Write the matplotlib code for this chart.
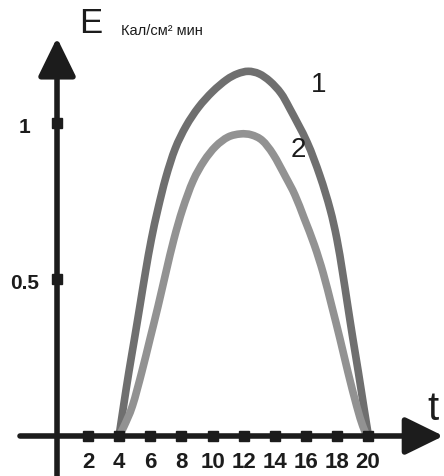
import numpy as np
import matplotlib
matplotlib.use("Agg")
import matplotlib.pyplot as plt
from matplotlib.path import Path
from matplotlib.patches import PathPatch

plt.rcParams["font.family"] = ["Liberation Sans", "DejaVu Sans"]

## curve 1
t1 = [3.99, 4.28, 4.62, 4.98, 5.33, 5.69, 6.07, 6.49, 7.0, 7.6, 8.3,
      9.1, 10.0, 10.9, 11.6, 12.3, 13.0, 13.7, 14.4, 14.98, 16.08, 16.91,
      17.56, 18.0, 18.36, 18.70, 19.03, 19.38, 19.72, 20.03]
E1 = [0.0, 0.096, 0.204, 0.310, 0.415, 0.524, 0.629, 0.725, 0.826, 0.918,
      0.99, 1.05, 1.10, 1.138, 1.157, 1.165, 1.157, 1.133, 1.095, 1.045,
      0.939, 0.831, 0.725, 0.629, 0.524, 0.415, 0.310, 0.204, 0.096, 0.0]

## curve 2
t2 = [3.99, 4.30, 4.85, 5.45, 5.98, 6.50, 7.01, 7.52, 8.08, 8.75, 9.45,
      10.2, 11.0, 11.8, 12.5, 13.2, 13.9, 14.7, 15.3, 15.9, 16.55, 17.12,
      17.67, 18.20, 18.71, 19.27, 19.66, 19.94]
E2 = [0.0, 0.03, 0.096, 0.204, 0.310, 0.415, 0.524, 0.629, 0.725, 0.815,
      0.878, 0.925, 0.955, 0.965, 0.962, 0.944, 0.90, 0.828, 0.77, 0.695,
      0.61, 0.52, 0.415, 0.310, 0.204, 0.096, 0.032, 0.0]

xticks = [2, 4, 6, 8, 10, 12, 14, 16, 18, 20]
yticks = [0.5, 1]
ytick_labels = ["0.5", "1"]

AXCOL = "#1c1c1c"


def smooth_path(xs, ys):
    # catmull-rom through the read points, drawn as cubic bezier segments
    p = np.column_stack([xs, ys])
    p = np.vstack([p[0], p, p[-1]])
    verts = [p[1]]
    codes = [Path.MOVETO]
    for i in range(1, len(p) - 2):
        c1 = p[i] + (p[i + 1] - p[i - 1]) / 6
        c2 = p[i + 1] - (p[i + 2] - p[i]) / 6
        verts += [c1, c2, p[i + 1]]
        codes += [Path.CURVE4] * 3
    return Path(verts, codes)


fig = plt.figure(figsize=(4.44, 4.77), dpi=100)
ax = fig.add_axes([0, 0, 1, 1])
ax.set_xlim(-3.666, 24.887)
ax.set_ylim(-0.1278, 1.396)
ax.axis("off")

# curves
ax.add_patch(PathPatch(smooth_path(t1, E1), fill=False, ec="#6f6f6f", lw=5.5,
                       capstyle="butt", zorder=1))
ax.add_patch(PathPatch(smooth_path(t2, E2), fill=False, ec="#929292", lw=5.5,
                       capstyle="butt", zorder=1))

# axes with arrows
arrow = dict(arrowstyle="-|>,head_length=0.47,head_width=0.23", mutation_scale=50,
             lw=4, color=AXCOL, shrinkA=0, shrinkB=0)
ax.annotate("", xy=(0, 1.272), xytext=(0, -0.14), arrowprops=arrow, zorder=2)
ax.annotate("", xy=(24.85, 0), xytext=(-2.38, 0), arrowprops=arrow, zorder=2)

# square tick markers
ax.plot(xticks, np.zeros(len(xticks)), "s", ms=7.5, color=AXCOL, zorder=3)
ax.plot(np.zeros(len(yticks)), yticks, "s", ms=7.5, color=AXCOL, zorder=3)

for x in xticks:
    ax.text(x, -0.083, str(x), ha="center", va="center", fontsize=16,
            fontweight="bold", color=AXCOL)
for y, lab in zip(yticks, ytick_labels):
    ax.text(-2.06, y - 0.01, lab, ha="center", va="center", fontsize=15,
            fontweight="bold", color=AXCOL)

# curve labels
ax.text(16.8, 1.125, "1", ha="center", va="center", fontsize=20, color=AXCOL)
ax.text(15.5, 0.917, "2", ha="center", va="center", fontsize=20, color=AXCOL)

# axis titles
fig.text(0.178, 0.931, "E", fontsize=25, color=AXCOL)
fig.text(0.272, 0.926, "Кал/см² мин", fontsize=10.5, color=AXCOL)
fig.text(0.962, 0.1195, "t", fontsize=29, color=AXCOL)

fig.savefig("out.png", dpi=100)
